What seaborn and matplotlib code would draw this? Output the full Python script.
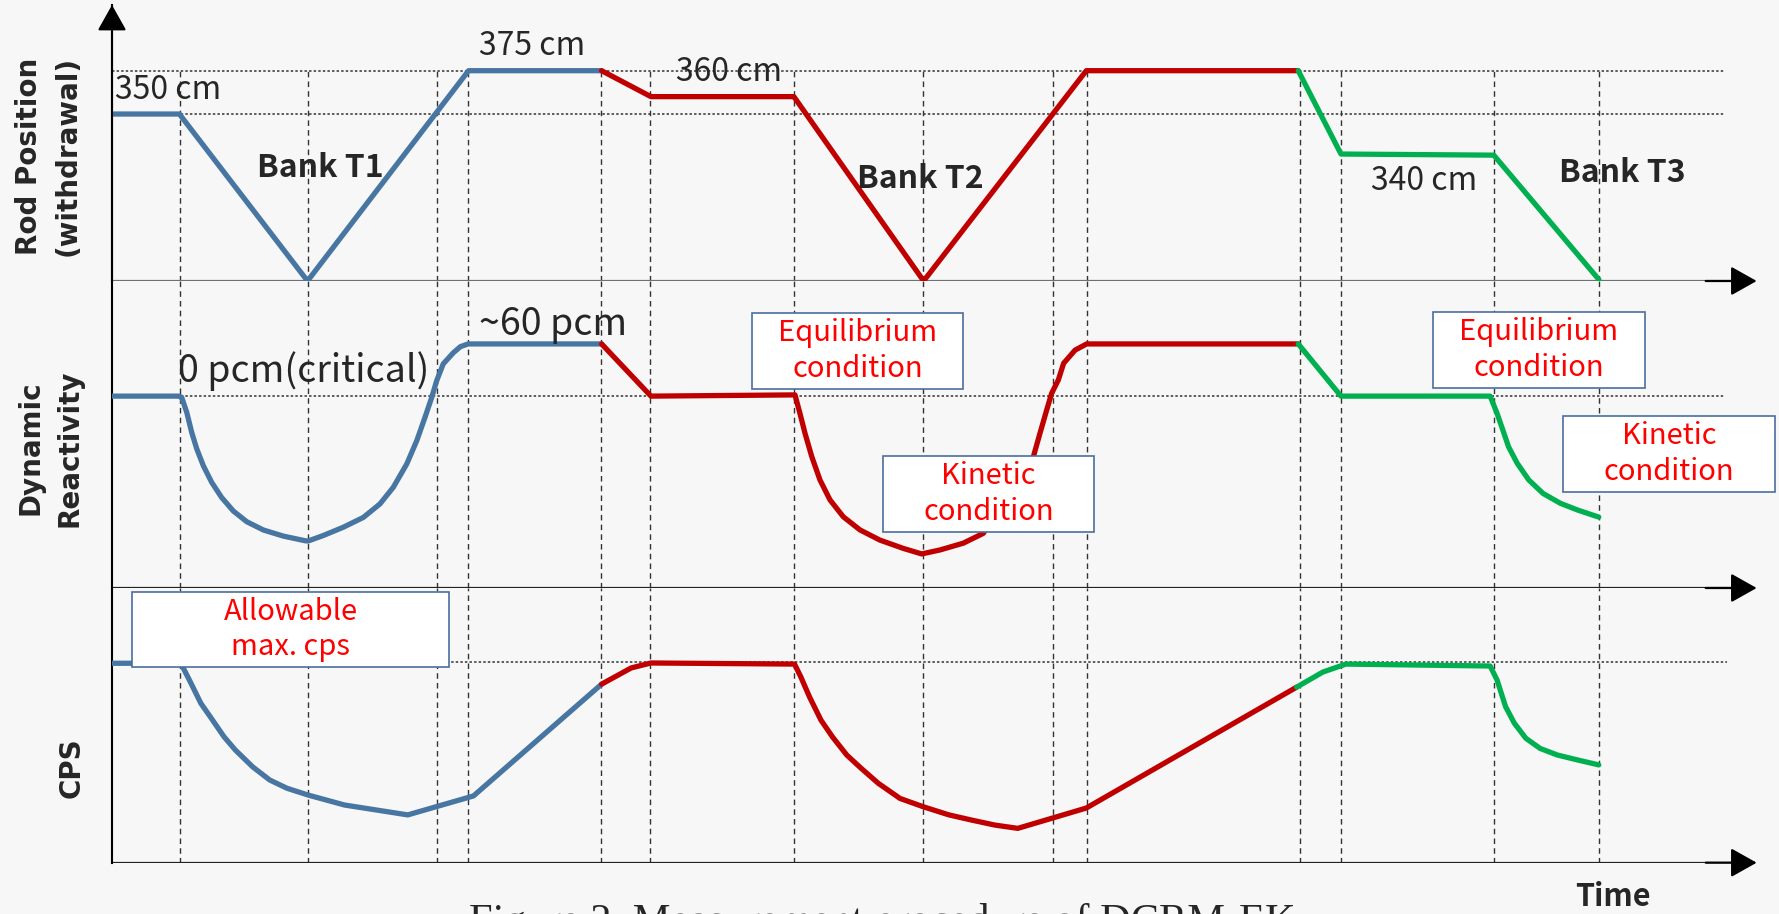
import matplotlib
matplotlib.use("Agg")
import matplotlib.pyplot as plt
import seaborn as sns
from matplotlib.patches import Rectangle

# time axis in arbitrary units (0 = y axis, 100 = arrow tip)
event_t = [4.14, 11.93, 19.78, 21.67, 29.76, 32.75, 41.51, 49.36, 57.27, 59.34,
           72.31, 74.80, 84.11, 90.51]

# rod position (relative height, 0..100)
rod_t_blue = [0, 4.1, 11.9, 21.7, 29.8]
rod_blue = [60.5, 60.5, 0, 76.2, 76.2]
rod_t_red = [29.8, 32.8, 41.5, 49.4, 59.3, 72.2]
rod_red = [76.2, 66.8, 66.8, 0, 76.2, 76.2]
rod_t_green = [72.2, 74.8, 84.1, 90.5]
rod_green = [76.2, 46.0, 45.6, 0.5]
rod_levels = [76.2, 60.5]

# dynamic reactivity (relative height, 0..100)
rho_t_blue = [0, 4.1, 4.24, 4.55, 4.85, 5.16, 5.56, 6.07, 6.67, 7.38, 8.20, 9.21, 10.43,
              11.75, 11.93, 12.86, 14.08, 15.30, 16.31, 17.12, 17.94, 18.55, 19.05, 19.46,
              19.76, 20.16, 20.77, 21.2, 21.67, 29.8]
rho_blue = [62.5, 62.5, 62.1, 57.2, 50.7, 45.3, 39.8, 34.4, 29.5, 25.1, 21.6, 18.9, 16.9,
            15.4, 15.3, 17.1, 19.8, 23.0, 27.4, 32.8, 40.4, 48.0, 55.6, 62.1,
            67.5, 73.0, 76.6, 78.6, 79.5, 79.5]
rho_t_red = [29.8, 32.8, 41.57, 41.87, 42.18, 42.59, 43.09, 43.70, 44.51, 45.53, 46.74,
             48.16, 49.28, 50.40, 51.81, 53.03, 56.08, 56.48, 56.89, 57.19, 57.60, 57.92,
             58.62, 59.32, 72.2]
rho_red = [79.5, 62.5, 62.9, 56.9, 50.4, 42.8, 35.2, 28.7, 23.2, 18.9, 15.6,
           12.9, 11.1, 12.4, 14.6, 17.8, 42.8, 50.4, 58.0, 63.4, 67.8, 73.2,
           77.5, 79.5, 79.5]
rho_t_green = [72.2, 74.8, 83.88, 84.30, 84.65, 85.00, 85.53, 86.23, 87.10, 88.15, 89.20, 90.49]
rho_green = [79.5, 62.5, 62.5, 56.9, 51.5, 46.0, 40.6, 35.2, 30.8, 27.6, 25.4, 23.1]
rho_level = 62.5

# CPS (relative height, 0..100)
cps_t_blue = [0, 4.19, 4.71, 5.41, 6.11, 6.81, 7.51, 8.56, 9.60, 10.65, 11.95, 14.15,
              18.0, 22.0, 29.8]
cps_blue = [72.6, 72.6, 66.5, 58.0, 52.0, 45.9, 41.0, 34.9, 30.1, 27.1, 24.6, 21.0,
            17.4, 24.3, 65.0]
cps_t_red = [29.8, 31.6, 32.8, 41.54, 41.92, 42.45, 43.15, 43.85, 44.72, 45.59, 46.64,
             47.96, 49.36, 50.94, 52.33, 53.73, 55.13, 59.3, 72.1]
cps_red = [65.0, 70.9, 72.7, 72.3, 67.7, 60.4, 51.9, 45.8, 39.2, 34.4, 28.9,
           23.4, 20.4, 17.4, 15.5, 13.7, 12.5, 19.9, 63.9]
cps_t_green = [72.1, 73.7, 75.1, 83.88, 84.30, 84.82, 85.35, 86.05, 86.92, 87.97, 89.2, 90.49]
cps_green = [63.9, 69.4, 72.3, 71.6, 66.5, 56.8, 50.8, 45.3, 41.6, 39.2, 37.4, 35.6]
cps_level = 73.2

BLUE = "#4876A3"
RED = "#C00000"
GREEN = "#00B050"
BOX_EDGE = "#4A6E9E"
TXT_RED = "#FF0000"
LBL_FONT = ["Noto Sans CJK KR", "DejaVu Sans"]

sns.set_theme(style="white")
plt.rcParams["font.family"] = LBL_FONT

fig = plt.figure(figsize=(17.79, 9.14), dpi=100, facecolor="#f7f7f7")
left, width = 0.06296, 0.92355
ax_rod = fig.add_axes([left, 0.69256, width, 0.30197])
ax_rho = fig.add_axes([left, 0.35667, width, 0.33589])
ax_cps = fig.add_axes([left, 0.05613, width, 0.30055])


def draw(ax, segs):
    for t, y, c in segs:
        sns.lineplot(x=t, y=y, ax=ax, color=c, lw=3.8, estimator=None, sort=False, zorder=3)


def setup(ax, base_color):
    ax.set_xlim(0, 100)
    ax.set_ylim(0, 100)
    ax.set_facecolor("none")
    ax.set_xticks([])
    ax.set_yticks([])
    ax.set_xlabel("")
    ax.set_ylabel("")
    for s in ["top", "right", "bottom"]:
        ax.spines[s].set_visible(False)
    ax.spines["left"].set_color("black")
    ax.spines["left"].set_linewidth(1.5)
    ax.axhline(0, color=base_color, lw=1.6, zorder=2)
    ax.annotate("", xy=(1.001, 0), xytext=(0.97, 0), xycoords="axes fraction",
                arrowprops=dict(arrowstyle="-|>,head_length=0.8,head_width=0.45",
                                mutation_scale=20, lw=1.6, color="black",
                                shrinkA=0, shrinkB=0),
                annotation_clip=False)


def box(ax, x0, y0, x1, y1, text):
    ax.add_patch(Rectangle((x0, y0), x1 - x0, y1 - y0, fc="white", ec=BOX_EDGE,
                           lw=1.2, zorder=4, clip_on=False))
    ax.text((x0 + x1) / 2, (y0 + y1) / 2, text, color=TXT_RED, fontsize=21,
            ha="center", va="center", linespacing=1.25, zorder=5, clip_on=False)


dash = dict(color="#333333", lw=1.0, linestyle=(0, (4, 3)), zorder=1)
dots = dict(color="#333333", lw=1.1, linestyle=(0, (1.6, 1.4)), zorder=1)

# rod position panel
setup(ax_rod, "#707070")
ax_rod.vlines(event_t, 0, 77, **dash)
ax_rod.hlines(rod_levels, 0, 98.1, **dots)
draw(ax_rod, [(rod_t_blue, rod_blue, BLUE), (rod_t_red, rod_red, RED),
              (rod_t_green, rod_green, GREEN)])
ax_rod.annotate("", xy=(0, 1.0), xytext=(0, 0), xycoords="axes fraction",
                arrowprops=dict(arrowstyle="-|>,head_length=0.8,head_width=0.45",
                                mutation_scale=20, lw=1.5, color="black",
                                shrinkA=0, shrinkB=0),
                annotation_clip=False)
ax_rod.text(0.18, 69.2, "350 cm", fontsize=23, ha="left", va="center")
ax_rod.text(25.56, 85.1, "375 cm", fontsize=23, ha="center", va="center")
ax_rod.text(37.55, 75.7, "360 cm", fontsize=23, ha="center", va="center")
ax_rod.text(79.85, 36.2, "340 cm", fontsize=23, ha="center", va="center")
ax_rod.text(12.66, 40.9, "Bank T1", fontsize=23, weight="bold", ha="center", va="center")
ax_rod.text(49.18, 37.0, "Bank T2", fontsize=23, weight="bold", ha="center", va="center")
ax_rod.text(91.9, 39.1, "Bank T3", fontsize=23, weight="bold", ha="center", va="center")

# dynamic reactivity panel
setup(ax_rho, "#222222")
for t in event_t:
    ax_rho.axvline(t, **dash)
ax_rho.hlines(rho_level, 0, 98.1, **dots)
draw(ax_rho, [(rho_t_blue, rho_blue, BLUE), (rho_t_red, rho_red, RED),
              (rho_t_green, rho_green, GREEN)])
ax_rho.text(11.65, 67.1, "0 pcm(critical)", fontsize=27, ha="center", va="baseline")
ax_rho.text(26.84, 82.4, "~60 pcm", fontsize=27, ha="center", va="baseline")
box(ax_rho, 38.95, 64.8, 51.80, 89.6, "Equilibrium\ncondition")
box(ax_rho, 46.93, 18.2, 59.77, 43.0, "Kinetic\ncondition")
box(ax_rho, 80.40, 65.1, 93.31, 89.9, "Equilibrium\ncondition")
box(ax_rho, 88.31, 31.3, 101.2, 56.0, "Kinetic\ncondition")

# CPS panel
setup(ax_cps, "#222222")
for t in event_t:
    ax_cps.axvline(t, **dash)
ax_cps.hlines(cps_level, 0, 98.3, **dots)
draw(ax_cps, [(cps_t_blue, cps_blue, BLUE), (cps_t_red, cps_red, RED),
              (cps_t_green, cps_green, GREEN)])
box(ax_cps, 1.22, 71.2, 20.51, 98.5, "Allowable\nmax. cps")

# axis titles
ylab = dict(family="DejaVu Sans", weight="bold", fontsize=20, rotation=90,
            ha="center", va="center", linespacing=1.5)
fig.text(0.027, 0.8293, "Rod Position\n(withdrawal)", **ylab)
fig.text(0.028, 0.5098, "Dynamic\nReactivity", **ylab)
fig.text(0.0405, 0.1597, "CPS", **ylab)
fig.text(0.9067, 0.0085, "Time", fontsize=22, weight="bold", ha="center", va="baseline")
# caption is cut by the bottom edge, as in the source image
fig.text(0.4958, 0.0120, "Figure 2. Measurement procedure of DCRM-EK",
         family="Liberation Serif", fontsize=30.5, ha="center", va="top")

fig.savefig("out.png", dpi=100, facecolor=fig.get_facecolor())
